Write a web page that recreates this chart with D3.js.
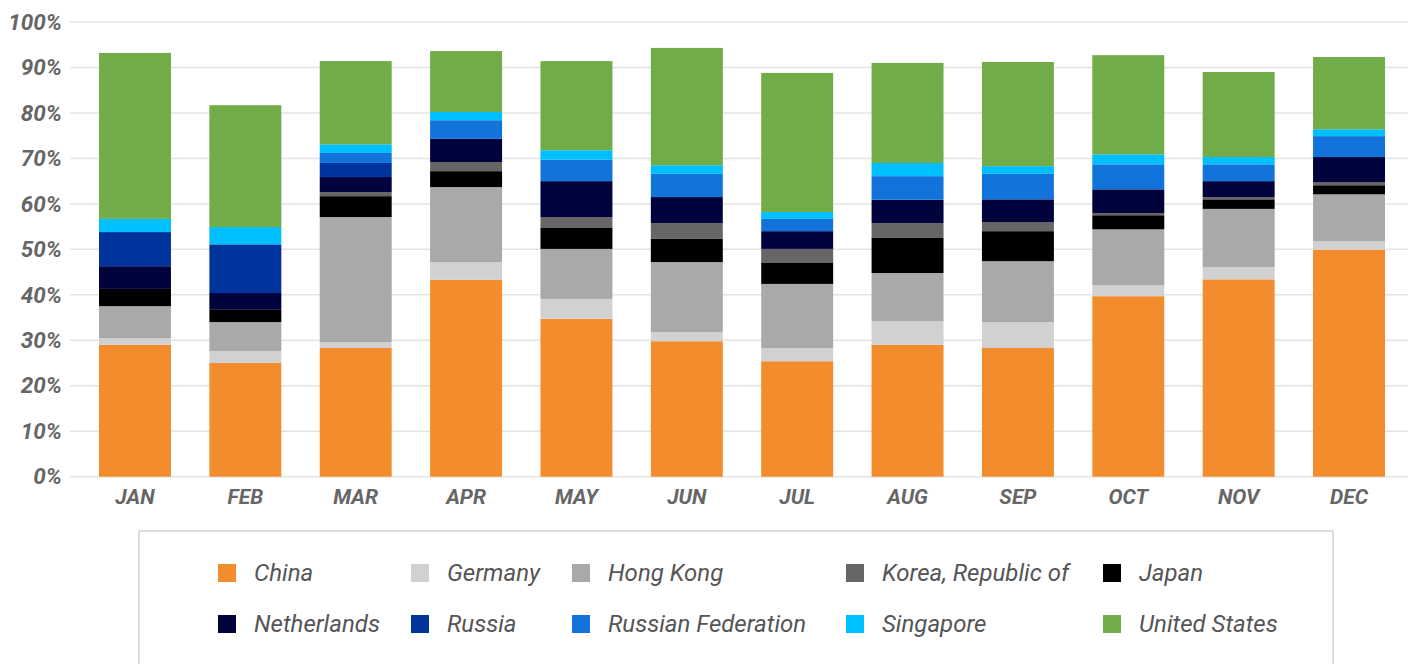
<!DOCTYPE html>
<html>
<head>
<meta charset="utf-8">
<script src="https://cdn.jsdelivr.net/npm/d3@7"></script>
<style>
  body { margin: 0; background: #fff; }
  svg { display: block; font-family: Roboto, "Noto Sans", sans-serif; }
</style>
</head>
<body>
<div id="chart"></div>
<script>
const months = ["JAN", "FEB", "MAR", "APR", "MAY", "JUN", "JUL", "AUG", "SEP", "OCT", "NOV", "DEC"];

// share of each country per month, in %
const china       = [29.0, 25.0, 28.3, 43.3, 34.7, 29.8, 25.4, 29.0, 28.3, 39.7, 43.4, 49.9];
const germany     = [1.5, 2.6, 1.3, 3.9, 4.4, 2.0, 2.9, 5.2, 5.7, 2.4, 2.7, 1.9];
const hongKong    = [7.0, 6.4, 27.5, 16.5, 11.0, 15.4, 14.1, 10.6, 13.4, 12.3, 12.8, 10.3];
const japan       = [3.8, 2.7, 4.6, 3.5, 4.6, 5.1, 4.6, 7.7, 6.6, 3.1, 2.1, 2.0];
const korea       = [0, 0, 0.9, 2.0, 2.4, 3.5, 3.1, 3.3, 2.0, 0.5, 0.5, 0.7];
const netherlands = [5.0, 3.7, 3.3, 5.1, 7.9, 5.7, 3.9, 5.1, 5.0, 5.2, 3.5, 5.5];
const russia      = [7.5, 10.7, 3.1, 0, 0, 0, 0, 0, 0, 0, 0, 0];
const russianFed  = [0, 0, 2.2, 4.1, 4.7, 5.1, 2.7, 5.2, 5.6, 5.5, 3.7, 4.6];
const singapore   = [2.9, 3.8, 1.9, 1.8, 2.1, 1.9, 1.5, 2.9, 1.7, 2.2, 1.6, 1.5];
const unitedStates = [36.5, 26.8, 18.3, 13.4, 19.6, 25.8, 30.6, 22.0, 22.9, 21.8, 18.7, 15.9];

const yTicks = [0, 10, 20, 30, 40, 50, 60, 70, 80, 90, 100];

// stacking order (bottom to top)
const series = [
  { name: "China", values: china, color: "#f28c2c" },
  { name: "Germany", values: germany, color: "#d1d1d1" },
  { name: "Hong Kong", values: hongKong, color: "#a9a9a9" },
  { name: "Japan", values: japan, color: "#000000" },
  { name: "Korea, Republic of", values: korea, color: "#666666" },
  { name: "Netherlands", values: netherlands, color: "#00033c" },
  { name: "Russia", values: russia, color: "#00349c" },
  { name: "Russian Federation", values: russianFed, color: "#1273db" },
  { name: "Singapore", values: singapore, color: "#00bfff" },
  { name: "United States", values: unitedStates, color: "#71ac48" }
];

const legendOrder = ["China", "Germany", "Hong Kong", "Korea, Republic of", "Japan",
  "Netherlands", "Russia", "Russian Federation", "Singapore", "United States"];

const width = 1408;
const height = 664;
const margin = { top: 22, left: 70, bottom: 187 };
const plotBottom = height - margin.bottom;

const svg = d3.select("#chart")
  .append("svg")
  .attr("width", width)
  .attr("height", height);

const rows = months.map((m, i) => {
  const r = { month: m };
  series.forEach(s => { r[s.name] = s.values[i]; });
  return r;
});

const stack = d3.stack().keys(series.map(s => s.name));
const stacked = stack(rows);

const x = d3.scaleBand()
  .domain(months)
  .range([79.8, 1404.2])
  .paddingInner(0.348)
  .paddingOuter(0.174);

const y = d3.scaleLinear()
  .domain([0, 100])
  .range([plotBottom - 0.3, margin.top]);

const color = d3.scaleOrdinal()
  .domain(series.map(s => s.name))
  .range(series.map(s => s.color));

// gridlines
svg.append("g")
  .selectAll("line")
  .data(yTicks)
  .join("line")
  .attr("x1", margin.left)
  .attr("x2", width)
  .attr("y1", d => y(d))
  .attr("y2", d => y(d))
  .attr("stroke", "#e4e4e4")
  .attr("stroke-width", 1.5);

// y axis labels
const yAxis = svg.append("g")
  .attr("transform", `translate(62,0)`)
  .call(d3.axisLeft(y).tickValues(yTicks).tickSize(0).tickPadding(0).tickFormat(d => d + "%"));
yAxis.select(".domain").remove();
yAxis.selectAll("text")
  .attr("fill", "#666")
  .attr("font-size", 22.5)
  .attr("font-weight", "bold")
  .attr("font-style", "italic")
  .attr("font-family", "Roboto, sans-serif");

// bars
svg.append("g")
  .selectAll("g")
  .data(stacked)
  .join("g")
  .attr("fill", d => color(d.key))
  .selectAll("rect")
  .data(d => d)
  .join("rect")
  .attr("x", d => x(d.data.month))
  .attr("y", d => y(d[1]))
  .attr("width", x.bandwidth())
  .attr("height", d => y(d[0]) - y(d[1]));

// x axis labels
const xAxis = svg.append("g")
  .attr("transform", `translate(0,${plotBottom + 12})`)
  .call(d3.axisBottom(x).tickSize(0).tickPadding(0));
xAxis.select(".domain").remove();
xAxis.selectAll("text")
  .attr("dy", "0.71em")
  .attr("fill", "#666")
  .attr("font-size", 21)
  .attr("font-weight", "bold")
  .attr("font-style", "italic")
  .attr("font-family", "Roboto, sans-serif");

// legend
svg.append("rect")
  .attr("x", 139)
  .attr("y", 531)
  .attr("width", 1194)
  .attr("height", 150)
  .attr("fill", "none")
  .attr("stroke", "#dcdcdc")
  .attr("stroke-width", 2);

const legendX = [218, 411, 572, 846, 1103];
const legendY = [573, 624];

const legend = svg.append("g")
  .selectAll("g")
  .data(legendOrder)
  .join("g")
  .attr("transform", (d, i) => `translate(${legendX[i % 5]},${legendY[Math.floor(i / 5)]})`);

legend.append("rect")
  .attr("x", 0)
  .attr("y", -9)
  .attr("width", 18)
  .attr("height", 18)
  .attr("fill", d => color(d));

legend.append("text")
  .attr("x", 36)
  .attr("dy", "0.35em")
  .attr("fill", "#555")
  .attr("font-size", 24)
  .attr("font-style", "italic")
  .text(d => d);
</script>
</body>
</html>
